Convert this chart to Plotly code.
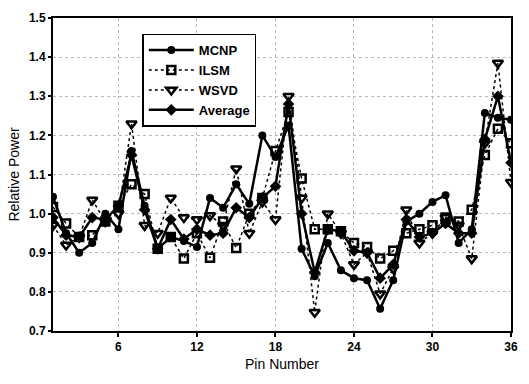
import plotly.graph_objects as go

pins = list(range(1, 37))
mcnp = [1.043, 0.95, 0.90, 0.925, 1.0, 0.96, 1.16, 1.02, 0.91, 0.94, 0.93, 0.915,
        1.04, 1.015, 1.075, 1.025, 1.20, 1.145, 1.225, 0.91, 0.84, 0.925, 0.855, 0.835,
        0.83, 0.757, 0.83, 0.98, 1.0, 1.03, 1.047, 0.925, 0.96, 1.257, 1.245, 1.24]
ilsm = [1.017, 0.975, 0.94, 0.945, 0.98, 1.02, 1.075, 1.05, 0.91, 0.94, 0.885, 0.95,
        0.887, 0.98, 0.912, 1.0, 1.04, 1.16, 1.26, 1.09, 0.96, 0.96, 0.955, 0.925,
        0.915, 0.885, 0.905, 0.95, 0.96, 0.97, 0.99, 0.98, 1.01, 1.15, 1.217, 1.18]
wsvd = [0.97, 0.92, 0.94, 1.035, 0.98, 1.0, 1.23, 0.97, 0.95, 1.04, 0.99, 0.985,
        0.995, 0.97, 1.115, 0.95, 1.03, 0.985, 1.30, 1.04, 0.748, 1.0, 0.95, 0.87,
        0.9, 0.795, 0.86, 1.01, 0.925, 0.95, 0.99, 0.97, 0.885, 1.18, 1.385, 1.08]
avg = [0.99, 0.945, 0.94, 0.99, 0.985, 1.02, 1.15, 1.01, 0.91, 0.985, 0.935, 0.96,
       0.945, 0.95, 1.015, 0.99, 1.04, 1.07, 1.28, 1.0, 0.85, 0.96, 0.955, 0.905,
       0.9, 0.835, 0.87, 0.985, 0.94, 0.95, 0.975, 0.95, 0.95, 1.19, 1.30, 1.13]

x_ticks = [6, 12, 18, 24, 30, 36]
y_ticks = [0.7, 0.8, 0.9, 1.0, 1.1, 1.2, 1.3, 1.4, 1.5]

FONT = "Liberation Sans, Arial, sans-serif"

fig = go.Figure()
fig.add_trace(go.Scatter(x=pins, y=mcnp, name="MCNP", mode="lines+markers",
                         line=dict(color="black", width=2.5),
                         marker=dict(symbol="circle", size=8, color="black")))
fig.add_trace(go.Scatter(x=pins, y=ilsm, name="ILSM", mode="lines+markers",
                         line=dict(color="black", width=1.5, dash="dot"),
                         marker=dict(symbol="square-open", size=8, color="black",
                                     line=dict(width=2.5, color="black"))))
fig.add_trace(go.Scatter(x=pins, y=wsvd, name="WSVD", mode="lines+markers",
                         line=dict(color="black", width=1.5, dash="dot"),
                         marker=dict(symbol="triangle-down-open", size=9, color="black",
                                     line=dict(width=2.5, color="black"))))
fig.add_trace(go.Scatter(x=pins, y=avg, name="Average", mode="lines+markers",
                         line=dict(color="black", width=2.5),
                         marker=dict(symbol="diamond", size=9, color="black")))

fig.update_layout(
    width=529, height=384,
    margin=dict(l=53, r=11, t=14, b=53),
    paper_bgcolor="white", plot_bgcolor="white",
    font=dict(family=FONT, color="black", size=12),
    showlegend=True,
    legend=dict(x=0.195, y=0.95, xanchor="left", yanchor="top",
                bgcolor="white", bordercolor="black", borderwidth=1.5,
                font=dict(size=13, family=FONT, weight="bold"),
                tracegroupgap=0, itemwidth=45),
)
fig.update_xaxes(range=[1, 36], tickvals=x_ticks, ticktext=[str(v) for v in x_ticks],
                 showline=True, linecolor="black", linewidth=2, mirror=True,
                 ticks="outside", ticklen=4, tickwidth=1.5, tickcolor="black",
                 showgrid=True, gridcolor="#b8b8b8", griddash="dot", gridwidth=1,
                 zeroline=False,
                 tickfont=dict(size=12, family=FONT, weight="bold"),
                 title=dict(text="Pin Number", font=dict(size=14), standoff=6))
fig.update_yaxes(range=[0.7, 1.5], tickvals=y_ticks, ticktext=[f"{v:.1f}" for v in y_ticks],
                 showline=True, linecolor="black", linewidth=2, mirror=True,
                 ticks="outside", ticklen=3, tickwidth=1.5, tickcolor="black",
                 showgrid=True, gridcolor="#b8b8b8", griddash="dot", gridwidth=1,
                 zeroline=False,
                 tickfont=dict(size=12, family=FONT, weight="bold"),
                 title=dict(text="Relative Power", font=dict(size=14), standoff=6))

fig.write_html("out.html")
